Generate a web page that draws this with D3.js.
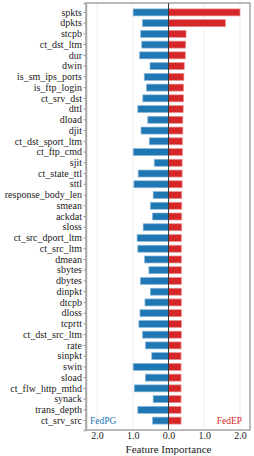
<!DOCTYPE html>
<meta charset="utf-8">
<script src="https://d3js.org/d3.v7.min.js"></script>
<style>
	body { margin: 0; background: #fff; }
	svg { display: block; }
	svg text { font-family: "Times New Roman", "Liberation Serif", "DejaVu Serif", serif !important; }
	.tick text { fill: #222; }
</style>
<body>
	<div id="chart"></div>
</body>
<script>
	// features, top to bottom
	const features = ["spkts", "dpkts", "stcpb", "ct_dst_ltm", "dur", "dwin", "is_sm_ips_ports",
		"is_ftp_login", "ct_srv_dst", "dttl", "dload", "djit", "ct_dst_sport_ltm", "ct_ftp_cmd",
		"sjit", "ct_state_ttl", "sttl", "response_body_len", "smean", "ackdat", "sloss",
		"ct_src_dport_ltm", "ct_src_ltm", "dmean", "sbytes", "dbytes", "dinpkt", "dtcpb",
		"dloss", "tcprtt", "ct_dst_src_ltm", "rate", "sinpkt", "swin", "sload",
		"ct_flw_http_mthd", "synack", "trans_depth", "ct_srv_src"];

	// FedPG importance (drawn to the left)
	const fedPG = [0.99, 0.73, 0.78, 0.75, 0.81, 0.52, 0.68, 0.62, 0.72, 0.86, 0.58, 0.77, 0.54,
		0.99, 0.40, 0.85, 0.97, 0.43, 0.51, 0.45, 0.71, 0.88, 0.86, 0.67, 0.55, 0.79, 0.51, 0.66,
		0.80, 0.83, 0.73, 0.65, 0.47, 0.99, 0.65, 0.96, 0.43, 0.86, 0.45];

	// FedEP importance (drawn to the right)
	const fedEP = [2.00, 1.59, 0.49, 0.48, 0.47, 0.44, 0.43, 0.42, 0.42, 0.41, 0.40, 0.40, 0.39,
		0.39, 0.38, 0.38, 0.38, 0.37, 0.37, 0.37, 0.37, 0.36, 0.36, 0.36, 0.36, 0.36, 0.36, 0.36,
		0.36, 0.36, 0.36, 0.35, 0.35, 0.35, 0.35, 0.35, 0.35, 0.35, 0.35];

	const xTicks = [-2, -1, 0, 1, 2];

	const width = 254, height = 456;
	const margin = {top: 3, right: 4, bottom: 26, left: 86};

	const svg = d3.select("#chart").append("svg")
		.attr("width", width)
		.attr("height", height);

	const x = d3.scaleLinear()
		.domain([-2.31, 2.28])
		.range([margin.left, width - margin.right]);

	const y = d3.scaleBand()
		.domain(features)
		.range([margin.top, height - margin.bottom])
		.paddingInner(0.35)
		.paddingOuter(0.55);

	// grid
	svg.append("g")
		.selectAll("line")
		.data(xTicks)
		.join("line")
		.attr("x1", d => x(d)).attr("x2", d => x(d))
		.attr("y1", margin.top).attr("y2", height - margin.bottom)
		.attr("stroke", "#ebebeb")
		.attr("stroke-width", 0.8);

	const rows = features.map((f, i) => ({f: f, pg: fedPG[i], ep: fedEP[i]}));

	svg.append("g")
		.selectAll("rect")
		.data(rows)
		.join("rect")
		.attr("x", d => x(-d.pg))
		.attr("y", d => y(d.f))
		.attr("width", d => x(0) - x(-d.pg))
		.attr("height", y.bandwidth())
		.attr("fill", "#1f77b4")
		.attr("stroke", "#8db9d9")
		.attr("stroke-width", 0.7);

	svg.append("g")
		.selectAll("rect")
		.data(rows)
		.join("rect")
		.attr("x", x(0))
		.attr("y", d => y(d.f))
		.attr("width", d => x(d.ep) - x(0))
		.attr("height", y.bandwidth())
		.attr("fill", "#d62728")
		.attr("stroke", "#ec9091")
		.attr("stroke-width", 0.7);

	// zero line
	svg.append("line")
		.attr("x1", x(0)).attr("x2", x(0))
		.attr("y1", margin.top).attr("y2", height - margin.bottom)
		.attr("stroke", "#333")
		.attr("stroke-width", 1);

	// frame
	svg.append("rect")
		.attr("x", margin.left)
		.attr("y", margin.top)
		.attr("width", width - margin.left - margin.right)
		.attr("height", height - margin.top - margin.bottom)
		.attr("fill", "none")
		.attr("stroke", "#777")
		.attr("stroke-width", 1);

	// y axis
	const yAxis = svg.append("g")
		.attr("transform", "translate(" + margin.left + ",0)")
		.call(d3.axisLeft(y).tickSize(2.5).tickPadding(1.5));
	yAxis.select(".domain").attr("stroke", "#aaa").attr("stroke-width", 1.5);
	yAxis.selectAll(".tick line").attr("stroke", "#999");
	yAxis.selectAll(".tick text").attr("font-size", "10px");

	// x axis
	const xAxis = svg.append("g")
		.attr("transform", "translate(0," + (height - margin.bottom) + ")")
		.call(d3.axisBottom(x).tickValues(xTicks).tickSize(0).tickPadding(2)
			.tickFormat(d => Math.abs(d).toFixed(1)));
	xAxis.select(".domain").remove();
	xAxis.selectAll(".tick text").attr("font-size", "10px");

	svg.append("text")
		.attr("x", x(0))
		.attr("y", height - 3)
		.attr("text-anchor", "middle")
		.attr("font-size", "11px")
		.attr("fill", "#222")
		.text("Feature Importance");

	// labels for series
	const lastY = y(features[features.length - 1]) + y.bandwidth() / 2;
	svg.append("text")
		.attr("x", margin.left + 4)
		.attr("y", lastY + 3)
		.attr("font-size", "9.5px")
		.attr("fill", "#1f77b4")
		.text("FedPG");
	svg.append("text")
		.attr("x", width - margin.right - 8)
		.attr("y", lastY + 3)
		.attr("text-anchor", "end")
		.attr("font-size", "9.5px")
		.attr("fill", "#d62728")
		.text("FedEP");
</script>
